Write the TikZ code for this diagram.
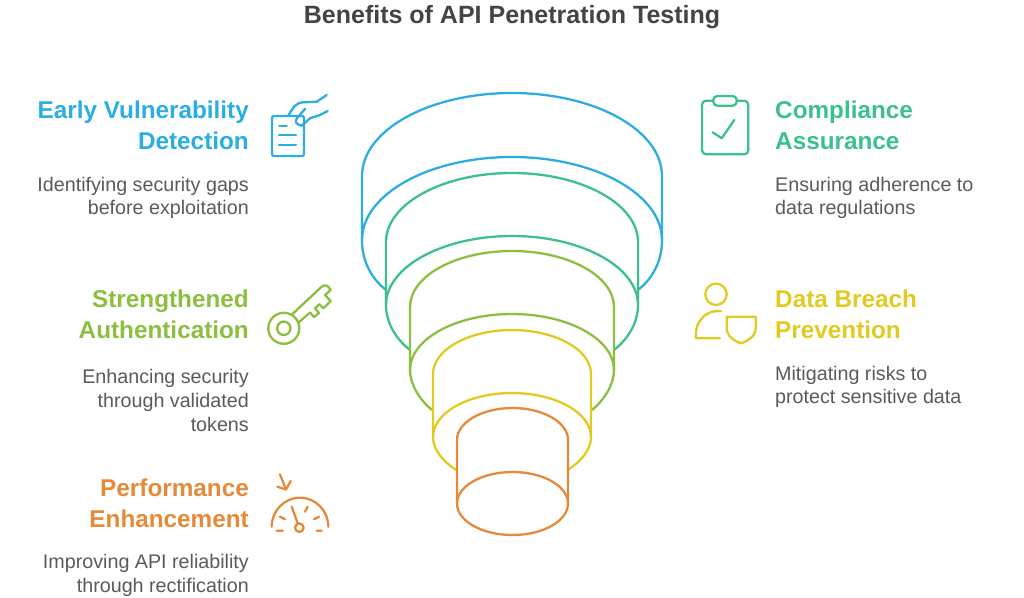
\documentclass[tikz,border=0pt]{standalone}
\usepackage{fontspec}
\setmainfont{Liberation Sans}
\definecolor{cblue}{HTML}{2CAEE0}
\definecolor{cgreen}{HTML}{3CC08C}
\definecolor{clime}{HTML}{8CBE40}
\definecolor{cyellow}{HTML}{E2CB20}
\definecolor{corange}{HTML}{E58A38}
\definecolor{ctext}{HTML}{5A5A5A}
\definecolor{ctitle}{HTML}{444444}
\begin{document}
\begin{tikzpicture}[x=1pt,y=-1pt]
    \tikzset{
    cyl line/.style={line width=2.3pt,line join=round},
    icon line/.style={line width=2.3pt,line cap=round,line join=round},
    head left/.style={anchor=east,align=right,inner sep=0,font=\bfseries\fontsize{24.3}{31}\selectfont},
    head right/.style={anchor=west,align=left,inner sep=0,font=\bfseries\fontsize{24.3}{31}\selectfont},
    body left/.style={anchor=east,align=right,inner sep=0,text=ctext,font=\fontsize{19.7}{23.6}\selectfont},
    body right/.style={anchor=west,align=left,inner sep=0,text=ctext,font=\fontsize{19.7}{23.6}\selectfont}
    }
    \useasboundingbox (0,0) rectangle (1024,597);
    \node[inner sep=0,text=ctitle,font=\bfseries\fontsize{25}{30}\selectfont] (title) at (512,17.5) {Benefits of API Penetration Testing};

    % funnel
    \draw[cyl line,cblue] (386,290) .. controls (372,279) and (362,262) .. (362,240) -- (362,176) arc[start angle=180,end angle=0,x radius=150pt,y radius=83pt] -- (662,240) .. controls (662,262) and (652,279) .. (638,290);
    \draw[cyl line,cblue] (362,240) arc[start angle=180,end angle=0,x radius=150pt,y radius=83pt];
    \draw[cyl line,cgreen] (410,350) .. controls (396,339) and (386,323) .. (386,305) -- (386,242) arc[start angle=180,end angle=0,x radius=126pt,y radius=69pt] -- (638,305) .. controls (638,323) and (628,339) .. (614,350);
    \draw[cyl line,cgreen] (386,305) arc[start angle=180,end angle=0,x radius=126pt,y radius=69pt];
    \draw[cyl line,clime] (432,410) .. controls (420,400) and (410,385) .. (410,370) -- (410,307) arc[start angle=180,end angle=0,x radius=102pt,y radius=56pt] -- (614,370) .. controls (614,385) and (604,400) .. (592,410);
    \draw[cyl line,clime] (410,370) arc[start angle=180,end angle=0,x radius=102pt,y radius=56pt];
    \draw[cyl line,cyellow] (456,470) .. controls (443,461) and (433,450) .. (433,437) -- (433,374) arc[start angle=180,end angle=0,x radius=79pt,y radius=44pt] -- (591,437) .. controls (591,450) and (581,461) .. (568,470);
    \draw[cyl line,cyellow] (433,437) arc[start angle=180,end angle=0,x radius=79pt,y radius=44pt];
    \draw[cyl line,corange] (457,503.5) -- (457,440) arc[start angle=180,end angle=0,x radius=55.5pt,y radius=32pt] -- (568,503.5);
    \draw[cyl line,corange] (512.5,503.5) ellipse[x radius=55.5pt,y radius=31.5pt];

    % left side
    \node[head left,text=cblue] (early) at (249,125.5) {Early Vulnerability\\Detection};
    \node[body left] (earlytxt) at (249,198) {Identifying security gaps\\before exploitation};
    \node[head left,text=clime] (auth) at (249,314.5) {Strengthened\\Authentication};
    \node[body left] (authtxt) at (249,400.5) {Enhancing security\\through validated\\tokens};
    \node[head left,text=corange] (perf) at (249,503.5) {Performance\\Enhancement};
    \node[body left] (perftxt) at (249,575.5) {Improving API reliability\\through rectification};

    % right side
    \node[head right,text=cgreen] (comp) at (775,125.5) {Compliance\\Assurance};
    \node[body right] (comptxt) at (775,198) {Ensuring adherence to\\data regulations};
    \node[head right,text=cyellow] (breach) at (775,314.5) {Data Breach\\Prevention};
    \node[body right] (breachtxt) at (775,387) {Mitigating risks to\\protect sensitive data};

    % document and hand
    \draw[icon line,cblue,rounded corners=2pt] (272,116) rectangle (304,156);
    \draw[icon line,cblue] (279.3,126.3) -- (286.7,126.3) (279,135.3) -- (296,135.3) (279,145) -- (296,145);
    \draw[icon line,cblue] (326.7,95) -- (316.7,101.7) -- (303,102.3) .. controls (295,103) and (293,108) .. (288.3,115.7);
    \draw[icon line,cblue] (327.7,111) -- (320,115) -- (310,118.3) -- (301.7,125.7) .. controls (297,125) and (294,122) .. (297,118) -- (305,109);

    % key
    \draw[icon line,clime] (283.8,328.3) circle (15.5pt) (283.8,328.3) circle (6.7pt);
    \draw[icon line,clime] (291.7,314.7) -- (321.7,286.7) .. controls (325,284) and (328,285) .. (330.7,290) -- (325,295) -- (330.7,301) -- (323.3,308.3) -- (319.3,304.3) -- (315,308.3) -- (319,313) -- (314,317) -- (310,312.5) -- (298,323);

    % gauge
    \draw[icon line,corange] (271.7,526.7) arc[start angle=180,end angle=0,x radius=28.3pt,y radius=29pt];
    \draw[icon line,corange] (291.7,506.7) -- (297.7,523.3);
    \draw[icon line,corange] (299.3,527.7) circle (4.3pt);
    \draw[icon line,corange] (276.7,530.7) -- (282.7,530.7) (280,516.7) -- (285,519.3) (307.7,506.7) -- (305,511.7) (319,516.7) -- (314,519.3) (316.7,530.7) -- (321.7,530.7);
    \draw[icon line,corange] (280,474.3) -- (286,489.5) (277.3,486.7) -- (286,489.5) -- (290.7,481);

    % clipboard
    \draw[icon line,cgreen,rounded corners=4pt] (702,100.7) rectangle (748.3,154.3);
    \draw[icon line,cgreen,fill=white,rounded corners=4pt] (713.3,96) rectangle (736.7,105.7);
    \draw[icon line,cgreen] (712.7,132.3) -- (721.7,138.3) -- (734.3,120);

    % person and shield
    \draw[icon line,cyellow] (716,294.3) circle (10.7pt);
    \draw[icon line,cyellow] (721,311) -- (718,311) .. controls (705,311) and (696,322) .. (696,333) -- (696,338.3) -- (720,338.3);
    \draw[icon line,cyellow] (726.7,316.7) -- (755.7,316.7) -- (755.7,328) .. controls (755.7,336) and (748,341) .. (741,343.3) .. controls (734,341) and (726.7,336) .. (726.7,328) -- cycle;
\end{tikzpicture}
\end{document}
